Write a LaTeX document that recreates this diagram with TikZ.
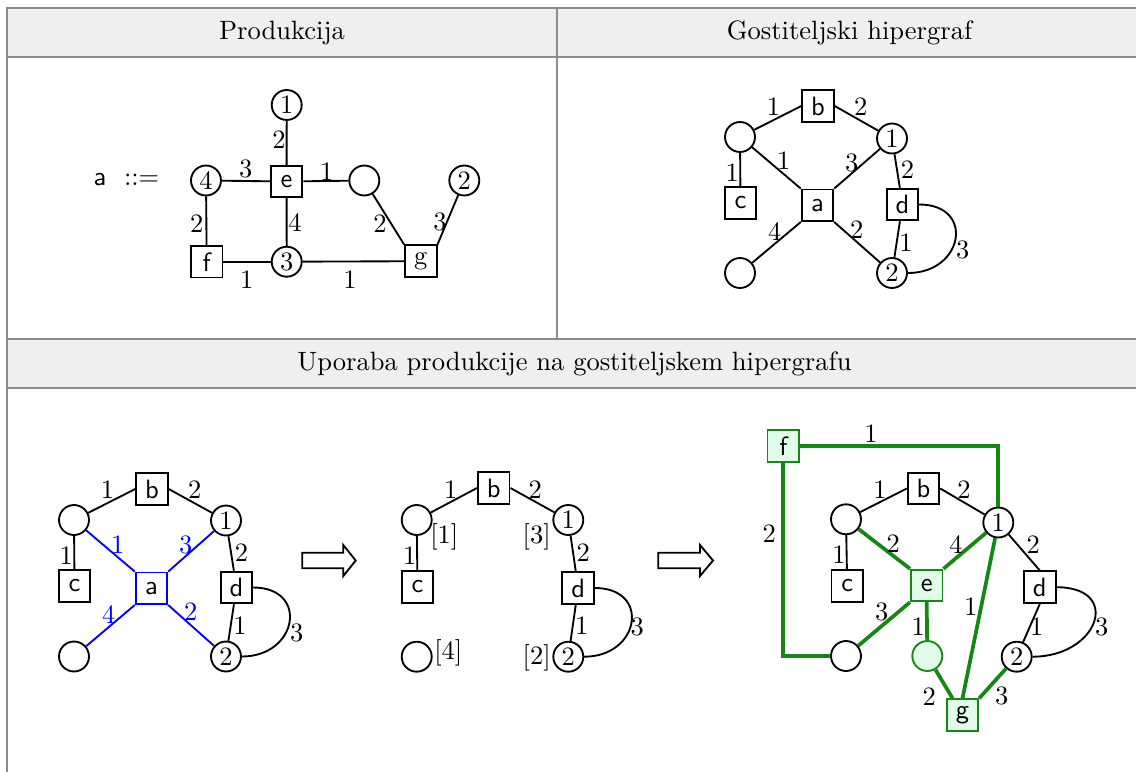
\documentclass[tikz,border=0pt]{standalone}
\usetikzlibrary{calc}
\definecolor{tabline}{RGB}{140,140,140}
\definecolor{hdrfill}{RGB}{239,239,239}
\definecolor{grn}{RGB}{20,135,20}
\definecolor{grnfill}{RGB}{225,252,232}
\begin{document}
\begin{tikzpicture}[x=0.377pt,y=-0.377pt,
  vtx/.style={circle, draw, line width=0.7pt, minimum size=11.3pt, inner sep=0pt},
  edg/.style={rectangle, draw, line width=0.7pt, minimum size=11.9pt, inner sep=0pt, font=\sffamily},
  gbox/.style={edg, draw=grn, fill=grnfill},
  gvtx/.style={vtx, draw=grn, fill=grnfill},
  lab/.style={inner sep=0pt},
  blab/.style={lab, text=blue},
  ln/.style={line width=0.7pt},
  bln/.style={line width=0.7pt, draw=blue},
  gr/.style={line width=1.4pt, draw=grn},
  tab/.style={line width=0.8pt, draw=tabline},
  hdr/.style={fill=hdrfill},
  bigarrow/.style={line width=0.7pt, fill=white}]

\useasboundingbox (0,0) rectangle (1136,771);
\clip (0,0) rectangle (1136,771);

% ---------- table frame ----------
\fill[hdr] (7,8) rectangle (1142,57);
\fill[hdr] (7,339) rectangle (1142,388);
\draw[tab] (1142,8) -- (7,8) -- (7,780);
\draw[tab] (7,57) -- (1142,57);
\draw[tab] (7,339) -- (1142,339);
\draw[tab] (7,388) -- (1142,388);
\draw[tab] (557,8) -- (557,339);
\draw[tab] (1142,8) -- (1142,780);

\node (hprod) at (282,33) {Produkcija};
\node (hhost) at (849.5,33) {Gostiteljski hipergraf};
\node (happ) at (574.5,364) {Uporaba produkcije na gostiteljskem hipergrafu};

% ---------- production ----------
\node (pa) at (100,180) {\sffamily a};
\node (pdef) at (141.7,180) {$::=$};
\node[vtx] (p1) at (286.7,105) {1};
\node[edg] (pe) at (286.6,181.5) {e};
\node[vtx] (p4) at (206,180.5) {4};
\node[vtx] (pv) at (364.3,180.5) {};
\node[vtx] (p2) at (464.3,180.5) {2};
\node[edg] (pf) at (206.7,261.7) {f};
\node[vtx] (p3) at (286.7,261.7) {3};
\node[edg, font=\rmfamily] (pg) at (420.8,261.2) {g};
\draw[ln] (pe) -- (p1);
\draw[ln] (p4) -- (pe);
\draw[ln] (pe) -- (pv);
\draw[ln] (pe) -- (p3);
\draw[ln] (p4) -- (pf);
\draw[ln] (pf) -- (p3);
\draw[ln] (p3) -- (pg);
\draw[ln] (pv) -- (pg.north west);
\draw[ln] (p2) -- (pg.north east);
\node[lab] (pl1) at (279,140) {2};
\node[lab] (pl2) at (245.7,169) {3};
\node[lab] (pl3) at (326.7,171.5) {1};
\node[lab] (pl4) at (295,222.7) {4};
\node[lab] (pl5) at (196.7,223.3) {2};
\node[lab] (pl6) at (246.7,279.3) {1};
\node[lab] (pl7) at (350,279.3) {1};
\node[lab] (pl8) at (380,223.3) {2};
\node[lab] (pl9) at (440,221.7) {3};

% ---------- host hypergraph ----------
\begin{scope}[shift={(740,137)}]
\node[vtx] (aTL) at (0,0) {};
\node[edg] (ab) at (78,-31) {b};
\node[vtx] (a1) at (152,1.5) {1};
\node[edg] (ac) at (0.5,66) {c};
\node[edg] (aa) at (77.5,68.3) {a};
\node[edg] (ad) at (162.5,67.5) {d};
\node[vtx] (aBL) at (0,136) {};
\node[vtx] (a2) at (152,136) {2};
\draw[ln] (aTL) -- (ab.west);
\draw[ln] (ab.east) -- (a1);
\draw[ln] (aTL) -- (ac);
\draw[ln] (aTL) -- (aa.north west);
\draw[ln] (a1) -- (aa.north east);
\draw[ln] (aBL) -- (aa.south west);
\draw[ln] (a2) -- (aa.south east);
\draw[ln] (a1) -- (ad);
\draw[ln] (ad) -- (a2);
\draw[ln] (ad.east) .. controls +(56,0) and +(56,0) .. (a2.east);
\node[lab] (al1) at (33.4,-30.5) {1};
\node[lab] (al2) at (120.7,-30.3) {2};
\node[lab] (al3) at (-7.8,35.8) {1};
\node[lab] (al4) at (43.8,23.8) {1};
\node[lab] (al5) at (111.7,25.5) {3};
\node[lab] (al6) at (167.5,33) {2};
\node[lab] (al7) at (34.7,95) {4};
\node[lab] (al8) at (116.8,92.2) {2};
\node[lab] (al9) at (166,106) {1};
\node[lab] (al10) at (222.8,113) {3};
\end{scope}

% ---------- application: matched host ----------
\begin{scope}[shift={(74,520)}]
\node[vtx] (bTL) at (0,0) {};
\node[edg] (bb) at (78,-31) {b};
\node[vtx] (b1) at (152,0.5) {1};
\node[edg] (bc) at (0.5,66) {c};
\node[edg, draw=blue] (ba) at (77.5,68.3) {a};
\node[edg] (bd) at (162.5,67.5) {d};
\node[vtx] (bBL) at (0,136.5) {};
\node[vtx] (b2) at (152,136.5) {2};
\draw[ln] (bTL) -- (bb.west);
\draw[ln] (bb.east) -- (b1);
\draw[ln] (bTL) -- (bc);
\draw[bln] (bTL) -- (ba.north west);
\draw[bln] (b1) -- (ba.north east);
\draw[bln] (bBL) -- (ba.south west);
\draw[bln] (b2) -- (ba.south east);
\draw[ln] (b1) -- (bd);
\draw[ln] (bd) -- (b2);
\draw[ln] (bd.east) .. controls +(56,0) and +(56,0) .. (b2.east);
\node[lab] (bl1) at (33.4,-30.5) {1};
\node[lab] (bl2) at (120.7,-30.3) {2};
\node[lab] (bl3) at (-7.8,35.8) {1};
\node[blab] (bl4) at (43.8,24.5) {1};
\node[blab] (bl5) at (111.7,25) {3};
\node[lab] (bl6) at (167.5,33) {2};
\node[blab] (bl7) at (34.7,94.5) {4};
\node[blab] (bl8) at (116.8,92) {2};
\node[lab] (bl9) at (166,106) {1};
\node[lab] (bl10) at (222.8,113) {3};
\end{scope}

\draw[bigarrow] (302.3,552.7) -- (343.3,552.7) -- (343.3,545) -- (355.7,560.5)
  -- (343.3,576) -- (343.3,568.3) -- (302.3,568.3) -- cycle;

% ---------- application: host with a removed ----------
\begin{scope}[shift={(416.7,520)}]
\node[vtx] (cTL) at (0,0) {};
\node[edg] (cb) at (77,-32) {b};
\node[vtx] (c1) at (151.6,0) {1};
\node[edg] (cc) at (0.8,66.8) {c};
\node[edg] (cd) at (161.5,68) {d};
\node[vtx] (cBL) at (0,136.7) {};
\node[vtx] (c2) at (151.6,136.7) {2};
\draw[ln] (cTL) -- (cb.west);
\draw[ln] (cb.east) -- (c1);
\draw[ln] (cTL) -- (cc);
\draw[ln] (c1) -- (cd);
\draw[ln] (cd) -- (c2);
\draw[ln] (cd.east) .. controls +(56,0) and +(56,0) .. (c2.east);
\node[lab] (cl1) at (34,-30.3) {1};
\node[lab] (cl2) at (118.5,-30.7) {2};
\node[lab] (cl3) at (-7,36) {1};
\node[lab] (cl6) at (166.6,32.7) {2};
\node[lab] (cl9) at (165,105.5) {1};
\node[lab] (cl10) at (220.5,107) {3};
\node[lab] (ct1) at (27.6,17.3) {[1]};
\node[lab] (ct3) at (120,17.3) {[3]};
\node[lab] (ct4) at (31.6,133.3) {[4]};
\node[lab] (ct2) at (120,138.3) {[2]};
\end{scope}

\draw[bigarrow] (658.3,552.7) -- (700,552.7) -- (700,545) -- (713,560.5)
  -- (700,576) -- (700,568.3) -- (658.3,568.3) -- cycle;

% ---------- application: result ----------
\node[vtx] (rTL) at (846,519.3) {};
\node[edg] (rb) at (923.5,488.5) {b};
\node[vtx] (r1) at (998.3,522.5) {1};
\node[edg] (rc) at (847.2,585.8) {c};
\node[edg] (rd) at (1039.8,587.2) {d};
\node[vtx] (rBL) at (846,656) {};
\node[vtx] (r2) at (1016.7,656.7) {2};
\node[gbox] (rf) at (783.3,445.8) {f};
\node[gbox] (re) at (926.7,585.5) {e};
\node[gvtx] (rgc) at (927.3,656) {};
\node[gbox] (rg) at (962.5,715) {g};

\draw[ln] (rTL) -- (rb.west);
\draw[ln] (rb.east) -- (r1);
\draw[ln] (rTL) -- (rc);
\draw[ln] (r1) -- (rd.north);
\draw[ln] (rd.south) -- (r2);
\draw[ln] (rd.east) .. controls +(66,0) and +(66,0) .. (r2.east);

\draw[gr] (rf.east) -| (r1.north);
\draw[gr] (rf.south) |- (rBL.west);
\draw[gr] (rTL) -- (re.north west);
\draw[gr] (r1) -- (re.north east);
\draw[gr] (rBL) -- (re.south west);
\draw[gr] (re.south) -- (rgc);
\draw[gr] (rgc) -- (rg);
\draw[gr] (r1) -- (rg.north);
\draw[gr] (r2) -- (rg.north east);

\node[lab] (rl1) at (871,433.3) {1};
\node[lab] (rl2) at (769.3,533.3) {2};
\node[lab] (rl3) at (893.3,543.3) {2};
\node[lab] (rl4) at (956,545) {4};
\node[lab] (rl5) at (881.7,611.7) {3};
\node[lab] (rl6) at (918.3,626.7) {1};
\node[lab] (rl7) at (929.3,696.7) {2};
\node[lab] (rl8) at (970.7,606.7) {1};
\node[lab] (rl9) at (1001.7,696) {3};
\node[lab] (rl10) at (880,489.3) {1};
\node[lab] (rl11) at (964,489.3) {2};
\node[lab] (rl12) at (839,555) {1};
\node[lab] (rl13) at (1033.3,545) {2};
\node[lab] (rl14) at (1036.7,626.7) {1};
\node[lab] (rl15) at (1101.7,626.7) {3};
\end{tikzpicture}
\end{document}
